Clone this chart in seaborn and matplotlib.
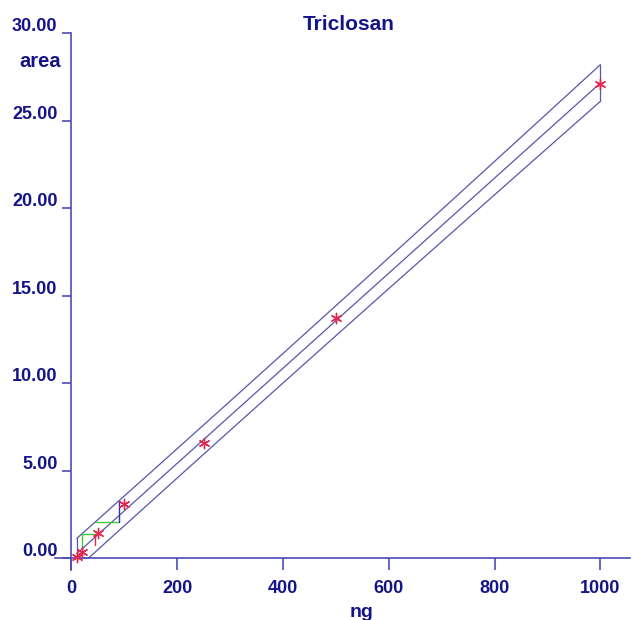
"""
Calibration plot for Triclosan (area vs ng) with prediction band
and detection / determination limit construction lines
"""

import numpy as np
import pandas as pd
import matplotlib
matplotlib.use('Agg')
import matplotlib.pyplot as plt
import matplotlib.transforms as mtransforms
import seaborn as sns

# Calibration standards
amount_ng = [10, 20, 50, 100, 250, 500, 1000]
peak_area = [0.08, 0.36, 1.45, 3.13, 6.59, 13.75, 27.07]

band_scale = 0.78

# limit construction
limit_x = [19, 44, 90]
red_span = [0.77, 1.30]
green_low = 0.66

# ticks
x_ticks = [0, 200, 400, 600, 800, 1000]
x_tick_labels = ['0', '200', '400', '600', '800', '1000']
y_ticks = [0, 5, 10, 15, 20, 25, 30]
y_tick_labels = ['0.00', '5.00', '10.00', '15.00', '20.00', '25.00', '30.00']

AXIS_COLOR = '#4c4cb4'
LINE_COLOR = '#5656ad'
TEXT_COLOR = '#14148a'
GREEN = '#3ccc3c'
RED = '#e3264f'

sns.set_style('white')
plt.rcParams['font.family'] = ['Liberation Sans', 'DejaVu Sans']

df = pd.DataFrame({'ng': amount_ng, 'area': peak_area})

# least squares fit
slope, intercept = np.polyfit(df['ng'], df['area'], 1)
x_mean = df['ng'].mean()
sxx = ((df['ng'] - x_mean) ** 2).sum()
n = len(df)


def center(x):
    return intercept + slope * np.asarray(x, dtype=float)


def half_width(x):
    x = np.asarray(x, dtype=float)
    return band_scale * np.sqrt(1 + 1 / n + (x - x_mean) ** 2 / sxx)


grid = np.linspace(min(amount_ng), max(amount_ng), 200)
band = pd.DataFrame({
    'ng': grid,
    'fit': center(grid),
    'upper': center(grid) + half_width(grid),
    'lower': np.maximum(center(grid) - half_width(grid), 0),
})

fig = plt.figure(figsize=(6.32, 6.20), dpi=100)
W, H = 632, 620
left_px, right_px = 55.1, 630
top_px, bottom_px = 33, 569.5
ax = fig.add_axes([left_px / W, 1 - bottom_px / H,
                   (right_px - left_px) / W, (bottom_px - top_px) / H])
ax.set_xlim(-31, 1056)
ax.set_ylim(-0.63, 30)

# band and fit lines
for col in ['upper', 'fit', 'lower']:
    sns.lineplot(data=band, x='ng', y=col, ax=ax, color=LINE_COLOR,
                 linewidth=0.9, estimator=None, sort=False)

x_lo, x_hi = min(amount_ng), max(amount_ng)
ax.plot([x_lo, x_lo], [0, center(x_lo) + half_width(x_lo)],
        color=LINE_COLOR, lw=0.9)
ax.plot([x_hi, x_hi],
        [center(x_hi) - half_width(x_hi), center(x_hi) + half_width(x_hi)],
        color=LINE_COLOR, lw=0.9)

# detection / determination limit construction
x1, x2, x3 = limit_x
y1 = float(center(x1) + half_width(x1))
y2 = float(center(x2) + half_width(x2))
y3 = float(center(x3) + half_width(x3))
ax.plot([x1, x1], [green_low, y1], color=GREEN, lw=1.0)
ax.plot([x1, x2], [y1, y1], color=GREEN, lw=1.0)
ax.plot([x2, x3], [y2, y2], color=GREEN, lw=1.0)
ax.plot([x2, x2], red_span, color=RED, lw=1.0)
ax.plot([x3, x3], [y2, y3], color='#3030c0', lw=1.0)

# calibration points
sns.scatterplot(data=df, x='ng', y='area', ax=ax, marker=(6, 2, 0),
                s=55, color=RED, linewidth=1.0, edgecolor=RED, zorder=5)

# axes styling
for side in ['top', 'right']:
    ax.spines[side].set_visible(False)
ax.spines['left'].set_position(('data', 0))
ax.spines['bottom'].set_position(('data', 0))
ax.spines['left'].set_bounds(-0.63, 30)
ax.spines['bottom'].set_bounds(-31, 1056)
for side in ['left', 'bottom']:
    ax.spines[side].set_color(AXIS_COLOR)
    ax.spines[side].set_linewidth(1.2)

ax.set_xticks(x_ticks, x_tick_labels)
ax.set_yticks(y_ticks, y_tick_labels)
ax.tick_params(axis='x', bottom=True, direction='out', length=8.6, width=1.2,
               color=AXIS_COLOR, pad=7, labelsize=13, labelcolor=TEXT_COLOR)
ax.tick_params(axis='y', left=True, direction='out', length=6.5, width=1.2,
               color=AXIS_COLOR, pad=3.6, labelsize=13, labelcolor=TEXT_COLOR)
shift = mtransforms.ScaledTranslation(0, 2 / 100, fig.dpi_scale_trans)
for lab in ax.get_xticklabels() + ax.get_yticklabels():
    lab.set_fontweight('bold')
for lab in ax.get_yticklabels():
    lab.set_verticalalignment('baseline')
    lab.set_transform(lab.get_transform() + shift)
ax.set_xlabel('')
ax.set_ylabel('')

fig.text(348.5 / W, 1 - 30 / H, 'Triclosan', ha='center', va='baseline',
         fontsize=15, fontweight='bold', color=TEXT_COLOR)
fig.text(40.5 / W, 1 - 66.7 / H, 'area', ha='center', va='baseline',
         fontsize=14.5, fontweight='bold', color=TEXT_COLOR)
fig.text(361.5 / W, 1 - 617 / H, 'ng', ha='center', va='baseline',
         fontsize=14, fontweight='bold', color=TEXT_COLOR)

fig.savefig('out.png', dpi=100)
